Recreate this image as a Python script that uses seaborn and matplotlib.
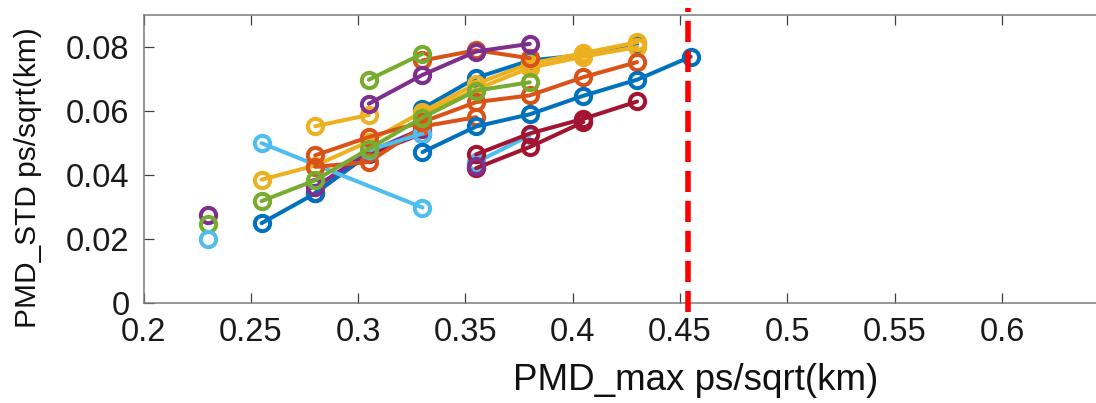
import matplotlib
matplotlib.use("Agg")
import matplotlib.pyplot as plt
import seaborn as sns
import pandas as pd

# MATLAB-style default colour order
BLUE = "#0072BD"
ORANGE = "#D95319"
YELLOW = "#EDB120"
PURPLE = "#7E2F8E"
GREEN = "#77AC30"
LIGHTBLUE = "#4DBEEE"
DARKRED = "#A2142F"

# ---- measured curves: PMD_max (x) vs PMD_STD (y), ps/sqrt(km) ----
r0_x = [0.28, 0.305, 0.33]
r0_y = [0.0345, 0.0465, 0.0530]

b1_x = [0.255, 0.28, 0.305]
b1_y = [0.0250, 0.0343, 0.0468]

p2_x = [0.28, 0.305, 0.33]
p2_y = [0.0363, 0.0472, 0.0545]

l2_x = [0.255, 0.33]
l2_y = [0.0500, 0.0299]

b3_x = [0.33, 0.355, 0.38, 0.405, 0.43]
b3_y = [0.0608, 0.0704, 0.0758, 0.0775, 0.0810]

y3_x = [0.33, 0.355, 0.38, 0.405, 0.43]
y3_y = [0.0590, 0.0668, 0.0735, 0.0770, 0.0800]

y1_x = [0.255, 0.28, 0.305, 0.33, 0.355, 0.38, 0.405, 0.43]
y1_y = [0.0386, 0.0430, 0.0505, 0.0598, 0.0685, 0.0748, 0.0781, 0.0815]

y2_x = [0.28, 0.305]
y2_y = [0.0553, 0.0588]

o2_x = [0.28, 0.305, 0.33, 0.355]
o2_y = [0.0426, 0.0441, 0.0552, 0.0581]

l3_x = [0.305, 0.33]
l3_y = [0.0478, 0.0530]

o1_x = [0.28, 0.305, 0.33, 0.355, 0.38, 0.405, 0.43]
o1_y = [0.0462, 0.0519, 0.0566, 0.0628, 0.0649, 0.0706, 0.0753]

g2_x = [0.255, 0.28, 0.305, 0.33, 0.355, 0.38]
g2_y = [0.0319, 0.0384, 0.0482, 0.0580, 0.0664, 0.0690]

o3_x = [0.33, 0.355, 0.38]
o3_y = [0.0758, 0.0790, 0.0765]

g3_x = [0.305, 0.33]
g3_y = [0.0698, 0.0779]

p3_x = [0.305, 0.33, 0.355, 0.38]
p3_y = [0.0623, 0.0713, 0.0786, 0.0810]

b2_x = [0.33, 0.355, 0.38, 0.405, 0.43, 0.455]
b2_y = [0.0472, 0.0552, 0.0590, 0.0648, 0.0698, 0.0770]

l4_x = [0.355, 0.38]
l4_y = [0.0440, 0.0524]

r1_x = [0.355, 0.38, 0.405, 0.43]
r1_y = [0.0465, 0.0530, 0.0576, 0.0630]

r2_x = [0.355, 0.38, 0.405]
r2_y = [0.0422, 0.0488, 0.0566]

p4_x = [0.355]
p4_y = [0.0428]

l1_x = [0.23]
l1_y = [0.0202]

g1_x = [0.23]
g1_y = [0.0249]

p1_x = [0.23]
p1_y = [0.0275]

# threshold marker on PMD_max
pmd_limit = 0.4535
limit_span = [-0.0027, 0.0922]

x_ticks = [0.2, 0.25, 0.3, 0.35, 0.4, 0.45, 0.5, 0.55, 0.6]
x_tick_labels = ["0.2", "0.25", "0.3", "0.35", "0.4", "0.45", "0.5", "0.55", "0.6"]
y_ticks = [0, 0.02, 0.04, 0.06, 0.08]
y_tick_labels = ["0", "0.02", "0.04", "0.06", "0.08"]

curves = [
    (r0_x, r0_y, DARKRED),
    (b1_x, b1_y, BLUE),
    (p2_x, p2_y, PURPLE),
    (l2_x, l2_y, LIGHTBLUE),
    (b3_x, b3_y, BLUE),
    (y3_x, y3_y, YELLOW),
    (y1_x, y1_y, YELLOW),
    (y2_x, y2_y, YELLOW),
    (o2_x, o2_y, ORANGE),
    (l3_x, l3_y, LIGHTBLUE),
    (o1_x, o1_y, ORANGE),
    (g2_x, g2_y, GREEN),
    (o3_x, o3_y, ORANGE),
    (g3_x, g3_y, GREEN),
    (p3_x, p3_y, PURPLE),
    (b2_x, b2_y, BLUE),
    (l4_x, l4_y, LIGHTBLUE),
    (r1_x, r1_y, DARKRED),
    (r2_x, r2_y, DARKRED),
    (p4_x, p4_y, PURPLE),
    (p1_x, p1_y, PURPLE),
    (g1_x, g1_y, GREEN),
    (l1_x, l1_y, LIGHTBLUE),
]

sns.set_theme(style="white")
plt.rcParams["font.family"] = ["Liberation Sans", "DejaVu Sans"]

W, H = 1096, 403
fig = plt.figure(figsize=(W / 100, H / 100), dpi=100)
# axes: left edge at 0.2 (x=143.5 px), the x range runs past the right edge of the figure
x_lo, x_hi = 0.2, 0.65
px_per_unit = 107.3 / 0.05
ax_left_px = 143.5
ax_width_px = (x_hi - x_lo) * px_per_unit
ax_bottom_px = 303.3
ax_top_px = 15.0
ax = fig.add_axes([ax_left_px / W, 1 - ax_bottom_px / H,
                   ax_width_px / W, (ax_bottom_px - ax_top_px) / H])

for i, (xs, ys, c) in enumerate(curves):
    df = pd.DataFrame({"x": xs, "y": ys})
    sns.lineplot(data=df, x="x", y="y", ax=ax, color=c, linewidth=2.9,
                 marker="o", markersize=11, mec=c, mfc="none", mew=2.9,
                 sort=False, estimator=None, legend=False, zorder=2 + i * 0.01)

ax.plot([pmd_limit, pmd_limit], limit_span, color="#FF0000", linewidth=4.0,
        linestyle=(0, (3.8, 1.6)), clip_on=False, zorder=5)

ax.set_xlim(x_lo, x_hi)
ax.set_ylim(0, 0.09)
ax.set_xticks(x_ticks)
ax.set_xticklabels(x_tick_labels)
ax.set_yticks(y_ticks)
ax.set_yticklabels(y_tick_labels)

ax.tick_params(axis="both", which="major", direction="in", length=7, width=0.9,
               color="#404040", labelcolor="#1a1a1a", labelsize=23.5)
ax.tick_params(axis="x", top=True, bottom=True, pad=10)
ax.tick_params(axis="y", left=True, right=False, pad=10)

for side in ["left", "bottom", "top", "right"]:
    ax.spines[side].set_color("#7a7a7a")
    ax.spines[side].set_linewidth(1.1)

ax.set_xlabel("PMD_max ps/sqrt(km)", fontsize=26.5, color="#111111", va="center")
ax.set_ylabel("PMD_STD ps/sqrt(km)", fontsize=21.5, color="#111111", va="center")
ax.xaxis.set_label_coords((696 - ax_left_px) / ax_width_px,
                          (ax_bottom_px - 381) / (ax_bottom_px - ax_top_px))
ax.yaxis.set_label_coords((28 - ax_left_px) / ax_width_px,
                          (ax_bottom_px - 178) / (ax_bottom_px - ax_top_px))

fig.savefig("out.png", dpi=100)
